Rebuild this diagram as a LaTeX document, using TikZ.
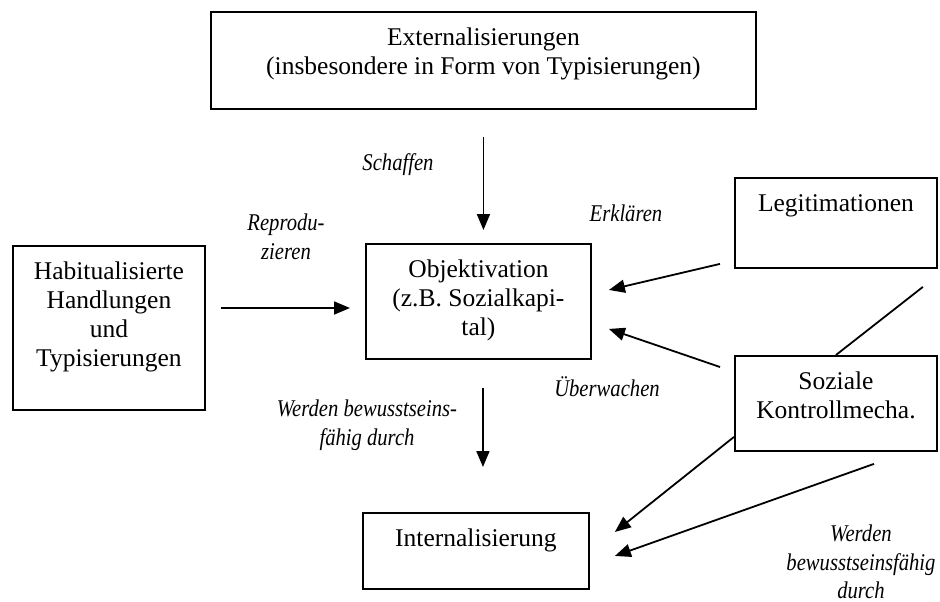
\documentclass[tikz,border=0pt]{standalone}
\usepackage{fontspec}
\setmainfont{Liberation Serif}
% narrow italic for the connector labels
\newfontfamily\labelfont[FakeStretch=0.86]{Liberation Serif}
\usetikzlibrary{arrows.meta}
% top-aligned box text: width, height, lines (first baseline 34pt below the top edge)
\newcommand{\boxtxt}[3]{\parbox[t][#2pt][t]{#1pt}{\centering\rule{0pt}{34pt}#3}}
\begin{document}
\begin{tikzpicture}[x=1pt,y=-1pt,
  every node/.style={font=\fontsize{25.5}{29}\selectfont},
  box/.style={draw, line width=1.9pt, inner sep=0pt, anchor=north west},
  lbl/.style={font=\labelfont\fontsize{24}{28.5}\selectfont\itshape, align=center, inner sep=0pt},
  arr/.style={line width=1.8pt, -{Triangle[length=16pt,width=13pt]}},
  lnk/.style={line width=1.8pt}]
\useasboundingbox (0,0) rectangle (940,602);

% boxes
\node[box] (ext) at (210,11) {\boxtxt{545}{97}{Externalisierungen\\(insbesondere in Form von Typisierungen)}};
\node[box] (hab) at (12,245) {\boxtxt{192}{164}{Habitualisierte\\Handlungen\\und\\Typisierungen}};
\node[box] (obj) at (365,243) {\boxtxt{225}{115}{Objektivation\\(z.B. Sozialkapi-\\tal)}};
\node[box] (leg) at (734,177) {\boxtxt{202}{90}{Legitimationen}};
\node[box] (soz) at (734,355) {\boxtxt{202}{95}{Soziale\\Kontrollmecha.}};
\node[box] (int) at (362,512) {\boxtxt{226}{76}{Internalisierung}};

% edge labels
\node[lbl] (schaffen) at (398,165) {Schaffen};
\node[lbl] (repro) at (286,237) {Reprodu-\\zieren};
\node[lbl] (erkl) at (626,213) {Erklären};
\node[lbl] (uberw) at (607,387) {Überwachen};
\node[lbl] (werdenA) at (367,425) {Werden bewusstseins-\\fähig durch};
\node[lbl] (werdenB) at (861,562) {Werden\\bewusstseinsfähig\\durch};

% helper coordinates
\coordinate (rline) at (0,308);
\coordinate (wtop) at ([shift={(4.5,28)}]obj.south);

% connectors
\draw[arr, shorten >=13pt] ([shift={(0,27)}]ext.south) -- (ext.south |- obj.north);
\draw[arr, shorten <=15pt, shorten >=15pt] (hab.east |- rline) -- (obj.west |- rline);
\draw[arr] ([shift={(-14,-5)}]leg.south west) -- ([shift={(17,-11.5)}]obj.east);
\draw[arr] ([shift={(-14,12)}]soz.north west) -- ([shift={(17,27.5)}]obj.east);
\draw[lnk] (soz.north) -- ([shift={(-15,18)}]leg.south east);
\draw[arr] ([shift={(0,-15)}]soz.south west) -- ([shift={(25,-19)}]int.east);
\draw[arr] ([shift={(38,12)}]soz.south) -- ([shift={(25,5)}]int.east);
\draw[arr, shorten >=45pt] (wtop) -- (wtop |- int.north);
\end{tikzpicture}
\end{document}
